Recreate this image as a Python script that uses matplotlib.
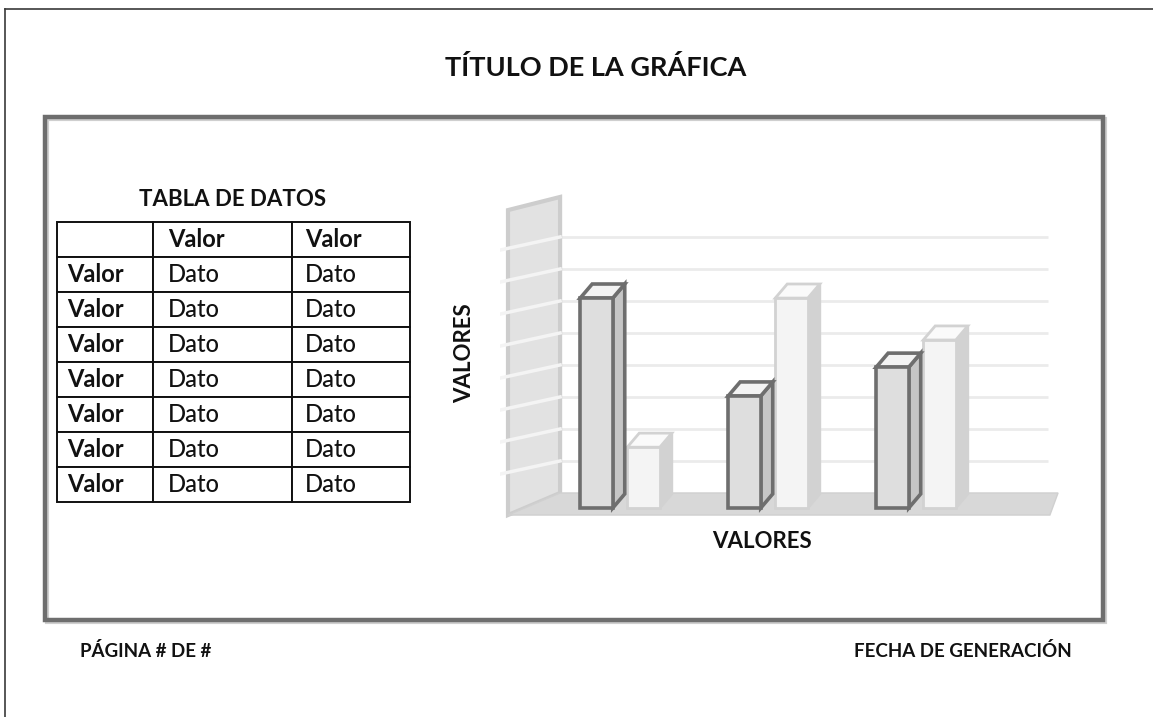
"""Report-page mockup: data table on the left, pseudo-3D bar chart on the right."""

import matplotlib

matplotlib.use("Agg")
import matplotlib.pyplot as plt
from matplotlib.patches import Polygon, Rectangle

plt.rcParams["font.family"] = ["Lato", "DejaVu Sans"]

W, H = 1153, 717

# ---- data -----------------------------------------------------------------
title = "TÍTULO DE LA GRÁFICA"
table_title = "TABLA DE DATOS"
col_labels = ["", "Valor", "Valor"]
row_labels = ["Valor"] * 7
cell_values = [["Dato", "Dato"]] * 7

categories = ["A", "B", "C"]
serie_oscura = [6.56, 3.5, 4.4]
serie_clara = [1.9, 6.56, 5.25]
grid_levels = [1, 2, 3, 4, 5, 6, 7, 8]
axis_label = "VALORES"
footer_left = "PÁGINA # DE #"
footer_right = "FECHA DE GENERACIÓN"


def fig_rect(x0, y0, x1, y1):
    """pixel box (top-left origin) -> figure fraction rect"""
    return [x0 / W, 1 - y1 / H, (x1 - x0) / W, (y1 - y0) / H]


fig = plt.figure(figsize=(W / 100, H / 100), dpi=100)

# page layer in pixel coordinates
page = fig.add_axes([0, 0, 1, 1])
page.set_xlim(0, W)
page.set_ylim(H, 0)
page.axis("off")

page.plot([5, W + 5], [9, 9], color="#3a3a3a", lw=1.2)
page.plot([5, 5], [9, H + 5], color="#3a3a3a", lw=1.2)

# inner frame with soft shadow
page.add_patch(Rectangle((47, 119), 1058, 503, fill=False, ec="#cfcfcf", lw=3))
page.add_patch(Rectangle((45, 117), 1058, 503, fill=False, ec="#6e6e6e", lw=3.2))

page.text(596, 67, title, ha="center", va="center", fontsize=19.5,
          fontweight="bold", color="#111111")
page.text(233, 199, table_title, ha="center", va="center", fontsize=16,
          fontweight="bold", color="#111111")
page.text(80, 651, footer_left, ha="left", va="center", fontsize=13.5,
          fontweight="bold", color="#111111")
page.text(1072, 651, footer_right, ha="right", va="center", fontsize=13.5,
          fontweight="bold", color="#111111")

# ---- table ----------------------------------------------------------------
tax = fig.add_axes(fig_rect(57, 222, 410, 502))
tax.axis("off")
rows = [col_labels] + [[r] + v for r, v in zip(row_labels, cell_values)]
tbl = tax.table(cellText=rows, cellLoc="left", bbox=[0, 0, 1, 1],
                colWidths=[96 / 353, 139 / 353, 118 / 353])
tbl.auto_set_font_size(False)
for (r, c), cell in tbl.get_celld().items():
    cell.set_linewidth(1.4)
    cell.set_edgecolor("#111111")
    cell.PAD = 0.11
    txt = cell.get_text()
    txt.set_fontsize(17)
    txt.set_color("#111111")
    if r == 0 or c == 0:
        txt.set_fontweight("bold")
    else:
        txt.set_fontweight("medium")

# ---- pseudo-3D bar chart ----------------------------------------------------
ax = fig.add_axes(fig_rect(500, 185, 1065, 525))
ax.set_xlim(-0.811, 3.007)
ax.set_ylim(-0.531, 10.094)
ax.axis("off")

dx, dy = 0.081, 0.44          # depth offset of the bars
back = 0.47                   # back plane offset of the gridlines
x_wall_front, x_wall_back = -0.757, -0.405
x_grid_end = 2.89

for g in grid_levels:
    ax.plot([x_wall_back, x_grid_end], [g + back, g + back],
            color="#ebebeb", lw=2, zorder=1, solid_capstyle="butt")

wall = Polygon([(x_wall_front, -0.22), (x_wall_front, 9.31),
                (x_wall_back, 9.72), (x_wall_back, back)],
               closed=True, fc="#e2e2e2", ec="#cdcdcd", lw=3, zorder=2)
ax.add_patch(wall)
for g in grid_levels:
    ax.plot([-0.811, x_wall_back], [g + back - 0.41, g + back],
            color="#f4f4f4", lw=2.5, zorder=3)

floor = Polygon([(x_wall_front, -0.22), (x_wall_back, back),
                 (2.96, back), (2.905, -0.22)],
                closed=True, fc="#d8d8d8", ec="#d0d0d0", lw=1, zorder=2)
ax.add_patch(floor)

xs = range(len(categories))
width = 0.22
offset = 0.159


def draw_bars(positions, values, front, side, top, edge, lw, z):
    bars = ax.bar(positions, values, width=width, color=front, edgecolor=edge,
                  linewidth=lw, zorder=z + 1)
    for b in bars:
        x0 = b.get_x()
        x1 = x0 + b.get_width()
        v = b.get_height()
        ax.add_patch(Polygon([(x1, 0), (x1 + dx, dy), (x1 + dx, v + dy), (x1, v)],
                             closed=True, fc=side, ec=edge, lw=lw, zorder=z,
                             joinstyle="miter"))
        ax.add_patch(Polygon([(x0, v), (x0 + dx, v + dy), (x1 + dx, v + dy), (x1, v)],
                             closed=True, fc=top, ec=edge, lw=lw, zorder=z,
                             joinstyle="miter"))


draw_bars([x + offset for x in xs], serie_clara, "#f4f4f4", "#d2d2d2",
          "#fafafa", "#d2d2d2", 2.0, 4)
draw_bars([x - offset for x in xs], serie_oscura, "#dedede", "#c6c6c6",
          "#f3f3f3", "#6e6e6e", 2.6, 6)

page.text(762, 541, axis_label, ha="center", va="center", fontsize=16,
          fontweight="bold", color="#111111")
page.text(465, 353, axis_label, ha="center", va="center", fontsize=16,
          fontweight="bold", color="#111111", rotation=90)

fig.savefig("out.png", dpi=100)
